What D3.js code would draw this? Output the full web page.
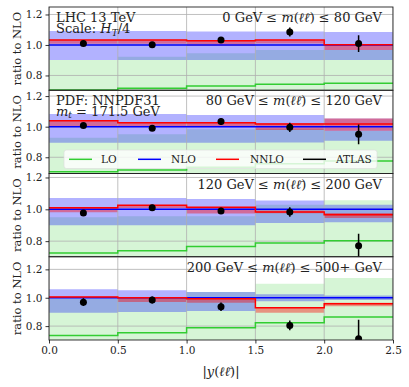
<!DOCTYPE html>
<html>
<head>
<meta charset="utf-8">
<script src="https://cdn.jsdelivr.net/npm/d3@7"></script>
<style>
  body { margin: 0; background: #fff; }
  text { font-family: "DejaVu Serif", serif; fill: #222; }
</style>
</head>
<body>
<script>
// bins in |y(ll)|
const edges = [0, 0.5, 1.0, 1.5, 2.0, 2.5];
const centers = [0.25, 0.75, 1.25, 1.75, 2.25];
const xTicks = [0, 0.5, 1.0, 1.5, 2.0, 2.5];
const yTicks = [0.8, 1.0, 1.2];

const massLabels = [
  ["0 GeV", "80 GeV"],
  ["80 GeV", "120 GeV"],
  ["120 GeV", "200 GeV"],
  ["200 GeV", "500+ GeV"]
];

// LO
const loLine = [
  [0.705, 0.716, 0.731, 0.742, 0.749],
  [0.706, 0.717, 0.735, 0.757, 0.776],
  [0.725, 0.740, 0.767, 0.788, 0.803],
  [0.734, 0.753, 0.788, 0.824, 0.864]
];
const loHi = [
  [0.902, 0.923, 0.945, 0.967, 0.967],
  [0.928, 0.950, 0.983, 0.985, 0.974],
  [0.950, 0.956, 0.956, 1.029, 1.057],
  [0.995, 1.000, 1.040, 1.099, 1.139]
];
const loLo = [
  [0.60, 0.60, 0.60, 0.60, 0.60],
  [0.60, 0.60, 0.60, 0.60, 0.60],
  [0.60, 0.60, 0.60, 0.60, 0.60],
  [0.60, 0.60, 0.60, 0.60, 0.60]
];

// NLO (reference, line at 1)
const nloLine = [1, 1, 1, 1, 1];
const nloHi = [
  [1.092, 1.092, 1.088, 1.088, 1.085],
  [1.083, 1.083, 1.076, 1.076, 1.054],
  [1.071, 1.071, 1.065, 1.055, 1.029],
  [1.059, 1.052, 1.040, 1.024, 1.016]
];
const nloLo = [
  [0.902, 0.902, 0.902, 0.902, 0.902],
  [0.895, 0.895, 0.895, 0.897, 0.908],
  [0.900, 0.900, 0.900, 0.914, 0.918],
  [0.894, 0.899, 0.906, 0.976, 0.984]
];

// NNLO
const nnloLine = [
  [1.033, 1.033, 1.028, 1.033, 1.002],
  [1.039, 1.026, 1.026, 1.017, 1.017],
  [1.010, 1.025, 1.013, 0.983, 0.966],
  [1.005, 1.000, 0.993, 0.929, 0.958]
];
const nnloHi = [
  [1.035, 1.035, 1.030, 1.035, 1.004],
  [1.041, 1.028, 1.028, 1.022, 1.054],
  [1.012, 1.027, 1.015, 0.993, 0.977],
  [1.008, 1.003, 0.996, 0.932, 0.965]
];
const nnloLo = [
  [1.008, 1.008, 0.993, 1.010, 0.967],
  [1.004, 1.005, 1.005, 0.978, 0.974],
  [0.981, 1.008, 0.973, 0.975, 0.945],
  [0.998, 0.970, 0.965, 0.894, 0.940]
];

// ATLAS data
const atlasVal = [
  [1.009, 1.002, 1.033, 1.085, 1.009],
  [1.007, 0.989, 1.033, 0.996, 0.950],
  [0.977, 1.010, 0.990, 0.983, 0.771],
  [0.969, 0.984, 0.936, 0.805, 0.710]
];
const atlasErr = [
  [0.015, 0.015, 0.020, 0.030, 0.055],
  [0.015, 0.018, 0.022, 0.030, 0.065],
  [0.015, 0.018, 0.020, 0.030, 0.075],
  [0.027, 0.025, 0.030, 0.035, 0.135]
];

const yLims = [[0.703, 1.249], [0.694, 1.238], [0.702, 1.225], [0.702, 1.289]];

const W = 409, H = 387;
const plotL = 49, plotR = 393, plotT = 7, plotB = 340;
const panelH = (plotB - plotT) / 4;
const serif = "'DejaVu Serif', serif";

const cLO = "#32cd32", cNLO = "#0000ff", cNNLO = "#ff0000";

const svg = d3.select("body").append("svg")
  .attr("width", W).attr("height", H)
  .style("font-family", serif);

const x = d3.scaleLinear().domain([0, 2.5]).range([plotL, plotR]);

function steps(vals) {
  const pts = [];
  vals.forEach((v, i) => { pts.push([edges[i], v]); pts.push([edges[i + 1], v]); });
  return pts;
}

function label(sel, xx, yy, size, anchor) {
  return sel.append("text").attr("x", xx).attr("y", yy)
    .attr("text-anchor", anchor || "start")
    .style("font-family", serif).style("font-size", size + "px");
}

const defs = svg.append("defs");

for (let p = 0; p < 4; p++) {
  const y0 = plotT + p * panelH, y1 = y0 + panelH;
  const y = d3.scaleLinear().domain(yLims[p]).range([y1, y0]);

  defs.append("clipPath").attr("id", "clip" + p)
    .append("rect").attr("x", plotL).attr("y", y0).attr("width", plotR - plotL).attr("height", panelH);

  const g = svg.append("g").attr("clip-path", `url(#clip${p})`);

  const band = (hi, lo) => {
    const loPts = steps(lo);
    return d3.area()
      .x(d => x(d[0]))
      .y0((d, i) => y(loPts[i][1]))
      .y1(d => y(d[1]))(steps(hi));
  };

  g.append("path").attr("d", band(loHi[p], loLo[p])).attr("fill", cLO).attr("fill-opacity", 0.2);
  g.append("path").attr("d", band(nloHi[p], nloLo[p])).attr("fill", cNLO).attr("fill-opacity", 0.3);
  g.append("path").attr("d", band(nnloHi[p], nnloLo[p])).attr("fill", cNNLO).attr("fill-opacity", 0.4);

  // grid
  g.selectAll(".gx").data(xTicks).enter().append("line")
    .attr("x1", d => x(d)).attr("x2", d => x(d)).attr("y1", y0).attr("y2", y1)
    .attr("stroke", "#b0b0b0").attr("stroke-width", 0.8);
  g.selectAll(".gy").data(yTicks).enter().append("line")
    .attr("x1", plotL).attr("x2", plotR).attr("y1", d => y(d)).attr("y2", d => y(d))
    .attr("stroke", "#b0b0b0").attr("stroke-width", 0.8);

  const line = d3.line().x(d => x(d[0])).y(d => y(d[1]));
  g.append("path").attr("d", line(steps(loLine[p]))).attr("fill", "none").attr("stroke", cLO).attr("stroke-width", 1.5);
  g.append("path").attr("d", line(steps(nloLine))).attr("fill", "none").attr("stroke", cNLO).attr("stroke-width", 1.5);
  g.append("path").attr("d", line(steps(nnloLine[p]))).attr("fill", "none").attr("stroke", cNNLO).attr("stroke-width", 1.5);

  // ATLAS points
  const pts = centers.map((c, i) => ({ c, v: atlasVal[p][i], e: atlasErr[p][i] }));
  g.selectAll(".eb").data(pts).enter().append("line")
    .attr("x1", d => x(d.c)).attr("x2", d => x(d.c))
    .attr("y1", d => y(d.v - d.e)).attr("y2", d => y(d.v + d.e))
    .attr("stroke", "#000").attr("stroke-width", 1.5);
  g.selectAll(".pt").data(pts).enter().append("circle")
    .attr("cx", d => x(d.c)).attr("cy", d => y(d.v)).attr("r", 3.5).attr("fill", "#000");

  // frame
  svg.append("rect").attr("x", plotL).attr("y", y0).attr("width", plotR - plotL).attr("height", panelH)
    .attr("fill", "none").attr("stroke", "#222").attr("stroke-width", 0.9);

  // y axis
  const yAxis = d3.axisLeft(y).tickValues(yTicks).tickFormat(d3.format(".1f")).tickSize(3.5).tickPadding(3);
  const ga = svg.append("g").attr("transform", `translate(${plotL},0)`).call(yAxis);
  ga.attr("font-family", null);
  ga.select(".domain").remove();
  ga.selectAll("text").style("font-family", serif).style("font-size", "10.5px").attr("fill", "#222");
  ga.selectAll("line").attr("stroke-width", 0.8);

  svg.append("text")
    .attr("transform", `translate(17,${(y0 + y1) / 2}) rotate(-90)`)
    .attr("text-anchor", "middle").attr("dy", "0.35em")
    .style("font-family", serif).style("font-size", "11.5px").text("ratio to NLO");

  // mass range label
  const ml = label(svg, 382, y0 + 15, 13, "end");
  ml.append("tspan").text(massLabels[p][0] + " ≤ ");
  ml.append("tspan").attr("font-style", "italic").text("m");
  ml.append("tspan").text("(");
  ml.append("tspan").attr("font-style", "italic").text("ℓℓ\u0304");
  ml.append("tspan").text(") ≤ " + massLabels[p][1]);

  if (p === 0) {
    label(svg, 56, y0 + 15, 13).text("LHC 13 TeV");
    const s = label(svg, 56, y0 + 26, 13);
    s.append("tspan").text("Scale: ");
    s.append("tspan").attr("font-style", "italic").text("H");
    s.append("tspan").attr("font-style", "italic").attr("dy", 2.5).style("font-size", "9px").text("T");
    s.append("tspan").attr("dy", -2.5).text("/4");
  }
  if (p === 1) {
    label(svg, 56, y0 + 15, 13).text("PDF: NNPDF31");
    const s = label(svg, 56, y0 + 25.5, 13);
    s.append("tspan").attr("font-style", "italic").text("m");
    s.append("tspan").attr("font-style", "italic").attr("dy", 2.5).style("font-size", "9px").text("t");
    s.append("tspan").attr("dy", -2.5).text(" = 171.5 GeV");

    // legend
    const lg = svg.append("g");
    lg.append("rect").attr("x", 64).attr("y", 150).attr("width", 313).attr("height", 18.5)
      .attr("rx", 2.5).attr("fill", "#fff").attr("fill-opacity", 0.8)
      .attr("stroke", "#ddd").attr("stroke-opacity", 0.8).attr("stroke-width", 0.8);
    const items = [
      { name: "LO", c: cLO, x0: 69, tx: 101 },
      { name: "NLO", c: cNLO, x0: 138, tx: 171 },
      { name: "NNLO", c: cNNLO, x0: 216, tx: 250 },
      { name: "ATLAS", c: "#000", x0: 303, tx: 336 }
    ];
    items.forEach(it => {
      lg.append("line").attr("x1", it.x0).attr("x2", it.x0 + 23).attr("y1", 159.3).attr("y2", 159.3)
        .attr("stroke", it.c).attr("stroke-width", 1.5);
      label(lg, it.tx, 159.3, 10.5).attr("dy", "0.35em").text(it.name);
    });
  }
  if (p === 3) {
    const xAxis = d3.axisBottom(x).tickValues(xTicks).tickFormat(d3.format(".1f")).tickSize(3.5).tickPadding(3);
    const gx = svg.append("g").attr("transform", `translate(0,${y1})`).call(xAxis);
    gx.attr("font-family", null);
    gx.select(".domain").remove();
    gx.selectAll("text").style("font-family", serif).style("font-size", "10.5px").attr("fill", "#222");
    gx.selectAll("line").attr("stroke-width", 0.8);
  }
}

// x axis label
const xl = label(svg, (plotL + plotR) / 2, 376, 13, "middle");
xl.append("tspan").text("|");
xl.append("tspan").attr("font-style", "italic").text("y");
xl.append("tspan").text("(");
xl.append("tspan").attr("font-style", "italic").text("ℓℓ\u0304");
xl.append("tspan").text(")|");
</script>
</body>
</html>
